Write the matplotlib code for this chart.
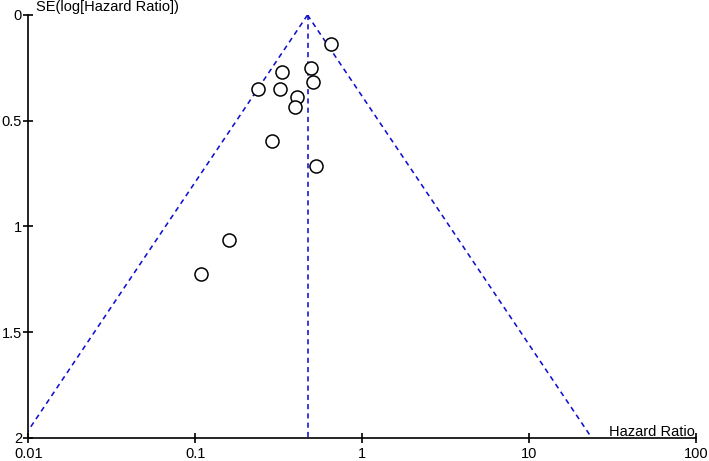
import numpy as np
import matplotlib.pyplot as plt

plt.rcParams['font.family'] = ['Liberation Sans', 'DejaVu Sans']

# study estimates
hazard_ratio = [0.647, 0.493, 0.332, 0.509, 0.238, 0.321, 0.405, 0.397, 0.289, 0.528, 0.159, 0.108]
se_log_hr = [0.136, 0.252, 0.268, 0.318, 0.348, 0.348, 0.388, 0.435, 0.594, 0.714, 1.064, 1.223]
pooled_hr = 0.47

x_ticks = [0.01, 0.1, 1, 10, 100]
x_tick_labels = ['0.01', '0.1', '1', '10', '100']
y_ticks = [0, 0.5, 1, 1.5, 2]
y_tick_labels = ['0', '0.5', '1', '1.5', '2']

fig = plt.figure(figsize=(7.09, 4.61), dpi=100)
ax = fig.add_axes([0.0399, 0.0499, 0.9421, 0.9176])

blue = '#1010d0'
se_max = 2.0
se_line = np.array([0, se_max])
dash = (0, (3.2, 2.6))
ax.plot(pooled_hr * np.exp(-1.96 * se_line), se_line, color=blue, ls=dash, lw=1.15)
ax.plot(pooled_hr * np.exp(1.96 * se_line), se_line, color=blue, ls=dash, lw=1.15)
ax.plot([pooled_hr, pooled_hr], [0, se_max], color=blue, ls=dash, lw=1.15)

ax.plot(hazard_ratio, se_log_hr, 'o', mfc='white', mec='black', ms=9.4, mew=1.1, ls='none')

ax.set_xscale('log')
ax.set_xlim(0.01, 100)
ax.set_ylim(2, 0)
ax.set_xticks(x_ticks)
ax.set_xticklabels(x_tick_labels)
ax.xaxis.set_minor_locator(plt.NullLocator())
ax.set_yticks(y_ticks)
ax.set_yticklabels(y_tick_labels)

for s in ['top', 'right']:
    ax.spines[s].set_visible(False)
for s in ['left', 'bottom']:
    ax.spines[s].set_linewidth(1.2)
ax.tick_params(direction='inout', length=7, width=1.2, labelsize=10.5)
ax.tick_params(axis='x', pad=3)
ax.tick_params(axis='y', pad=1)

fig.text(36 / 709, 1 - 7.5 / 461, 'SE(log[Hazard Ratio])', ha='left', va='center', fontsize=10.5)
fig.text(695 / 709, 1 - 431.5 / 461, 'Hazard Ratio', ha='right', va='center', fontsize=10.5)

fig.savefig('out.png', dpi=100)
